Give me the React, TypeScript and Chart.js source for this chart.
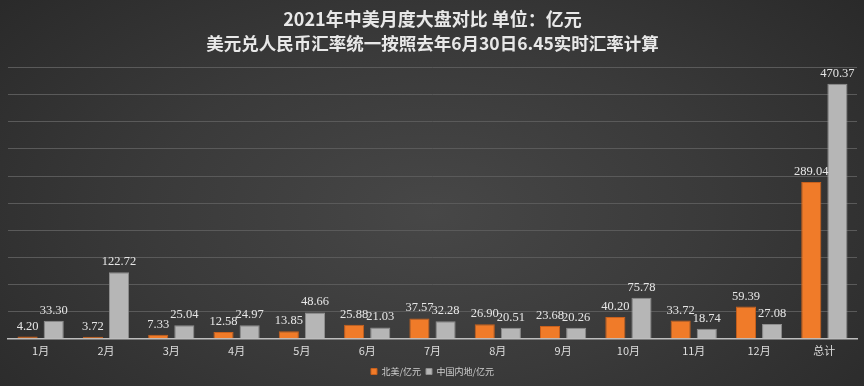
import React, { useEffect, useRef } from "react";
import { Chart, registerables } from "chart.js";

Chart.register(...registerables);

const categories = ["1月", "2月", "3月", "4月", "5月", "6月", "7月", "8月", "9月", "10月", "11月", "12月", "总计"];
const northAmerica = [4.2, 3.72, 7.33, 12.58, 13.85, 25.88, 37.57, 26.9, 23.68, 40.2, 33.72, 59.39, 289.04];
const chinaMainland = [33.3, 122.72, 25.04, 24.97, 48.66, 21.03, 32.28, 20.51, 20.26, 75.78, 18.74, 27.08, 470.37];
const seriesNames = ["北美/亿元", "中国内地/亿元"];
const titleText = "2021年中美月度大盘对比 单位：亿元";
const subtitleText = "美元兑人民币汇率统一按照去年6月30日6.45实时汇率计算";

const CJK = "'Noto Sans CJK SC', 'Noto Sans', sans-serif";

const valueLabels = {
  id: "valueLabels",
  afterDatasetsDraw(chart: any) {
    const ctx = chart.ctx;
    ctx.save();
    ctx.font = "12.5px 'Liberation Serif', 'DejaVu Serif', serif";
    ctx.fillStyle = "#e6e6e6";
    ctx.textAlign = "center";
    ctx.textBaseline = "bottom";
    chart.data.datasets.forEach((ds: any, i: number) => {
      const meta = chart.getDatasetMeta(i);
      meta.data.forEach((el: any, j: number) => {
        const v = ds.data[j] as number;
        ctx.fillText(v.toFixed(2), el.x, el.y - 4);
      });
    });
    ctx.restore();
  },
};

export default function App() {
  const ref = useRef<HTMLCanvasElement>(null);
  useEffect(() => {
    if (!ref.current) return;
    const chart = new Chart(ref.current, {
      type: "bar",
      data: {
        labels: categories,
        datasets: [
          {
            label: seriesNames[0],
            data: northAmerica,
            backgroundColor: "#f07b29",
            borderColor: "#c9601c",
            borderWidth: 1,
            categoryPercentage: 0.8,
            barPercentage: 0.77,
          },
          {
            label: seriesNames[1],
            data: chinaMainland,
            backgroundColor: "#b6b6b6",
            borderColor: "#8e8e8e",
            borderWidth: 1,
            categoryPercentage: 0.8,
            barPercentage: 0.77,
          },
        ],
      },
      options: {
        animation: false,
        responsive: true,
        maintainAspectRatio: false,
        layout: { padding: { left: 8, right: 7, top: 0, bottom: 0 } },
        plugins: {
          title: {
            display: true,
            text: titleText,
            color: "#e8e8e8",
            font: { family: CJK, size: 18, weight: "bold" },
            padding: { top: 8, bottom: 1 },
          },
          subtitle: {
            display: true,
            text: subtitleText,
            color: "#e8e8e8",
            font: { family: CJK, size: 17.5, weight: "bold" },
            padding: { top: 2, bottom: 14 },
          },
          legend: {
            position: "bottom",
            labels: {
              color: "#cfcfcf",
              font: { family: CJK, size: 9 },
              boxWidth: 6,
              boxHeight: 6,
              padding: 5,
            },
          },
          tooltip: { enabled: false },
        },
        scales: {
          x: {
            grid: { display: false, drawTicks: false },
            border: { display: true, color: "#bdbdbd", width: 1.5 },
            ticks: { color: "#dedede", font: { family: CJK, size: 11 }, padding: 5 },
          },
          y: {
            min: 0,
            max: 500,
            ticks: { display: false, stepSize: 50 },
            grid: { color: "#5a5a5a", lineWidth: 1, drawTicks: false },
            border: { display: false },
          },
        },
      },
      plugins: [valueLabels],
    });
    return () => chart.destroy();
  }, []);
  return (
    <div
      style={{
        position: "fixed",
        left: 0,
        top: 0,
        width: 864,
        height: 386,
        background: "radial-gradient(ellipse 65% 85% at 50% 55%, #474747 0%, #3a3a3a 50%, #2a2a2a 100%)",
      }}
    >
      <canvas ref={ref} />
    </div>
  );
}
